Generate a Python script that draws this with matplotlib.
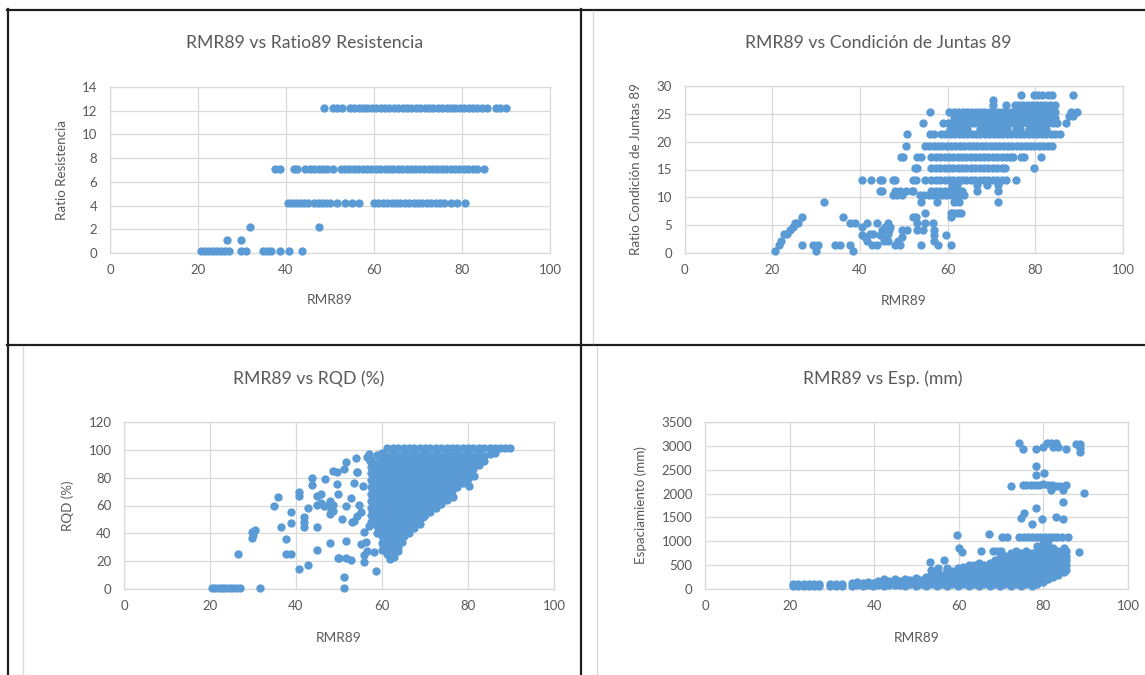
import matplotlib
matplotlib.use("Agg")
import matplotlib.pyplot as plt
from matplotlib.lines import Line2D

plt.rcParams['font.family'] = ['Lato', 'DejaVu Sans']

# ---------------- DATA ----------------
# Panel 1: RMR89 vs Ratio89 Resistencia (discrete levels)
res_levels = [12.2, 7.1, 4.2, 2.2, 1.1, 0.2]
res_x_12 = [48.7, 50.6, 51.5, 52.8, 54.5, 55.5, 56.5, 57.5, 58.5, 59.5, 60.5, 61.5, 62.5, 63.5,
            64.5, 65.5, 66.5, 67.5, 68.5, 69.5, 70.5, 71.5, 72.5, 73.5, 74.5, 75.5, 76.5, 77.5,
            78.5, 79.5, 80.5, 81.5, 82.5, 83.5, 84.5, 85.7, 87.7, 88.7, 89.9]
res_x_7 = [37.4, 38.7, 41.9, 42.5, 44.4, 45.4, 46.4, 47.4, 48.4, 49.4, 50.6, 52.4, 53.4, 54.4,
           55.4, 56.4, 57.4, 58.4, 59.4, 60.4, 61.4, 62.4, 63.4, 64.4, 65.4, 66.4, 67.4, 68.4,
           69.4, 70.4, 71.4, 72.4, 73.4, 74.4, 75.4, 76.4, 77.4, 78.4, 79.4, 80.4, 81.4, 82.4,
           83.4, 84.9]
res_x_4 = [40.4, 41.3, 42.2, 43.1, 44.1, 45.0, 46.4, 47.3, 48.2, 49.1, 50.0, 51.7, 53.5, 54.9,
           56.6, 60.0, 61.0, 62.0, 63.0, 64.0, 65.0, 66.0, 67.0, 68.0, 69.0, 70.0, 71.0, 72.0,
           73.0, 74.0, 75.0, 75.9, 77.6, 78.9, 80.6]
res_x_2 = [31.8, 47.6]
res_x_1 = [26.6, 29.7]
res_x_0 = [20.7, 21.6, 22.5, 23.4, 24.3, 25.2, 26.1, 27.1, 29.7, 31.0, 34.8, 35.6, 36.5,
           38.7, 40.6, 43.6]
res_rows = [res_x_12, res_x_7, res_x_4, res_x_2, res_x_1, res_x_0]

# Panel 2: RMR89 vs Condicion de Juntas 89 (rows of points)
jun_levels = [28.4, 27.4, 26.5, 25.3, 24.6, 24.2, 23.3, 22.3, 21.3, 19.2, 17.2, 15.2, 13.2,
              12.2, 11.2, 10.5, 9.2, 7.2, 6.4, 5.3, 4.7, 4.2, 3.4, 3.2, 2.9, 2.2, 1.4, 0.3]
jun_rows = [
    [76.8, 79.6, 80.7, 81.6, 82.8, 83.9, 88.6],
    [70.4],
    [70.4, 73.4, 75.3, 76.3, 77.3, 78.3, 79.3, 80.3, 81.3, 82.3, 83.3, 84.6],
    [56.1, 60.4, 61.4, 62.4, 63.4, 64.4, 65.4, 66.4, 67.4, 68.4, 69.4, 70.4, 71.4, 72.4, 73.4,
     74.4, 75.4, 76.4, 77.4, 78.4, 79.4, 80.4, 81.4, 82.4, 83.4, 84.6, 88.2, 89.5],
    [87.6, 88.6],
    [61.5, 62.5, 63.5, 64.5, 65.5, 66.5, 67.5, 68.5, 69.5, 70.5, 71.5, 72.5, 73.5, 74.5, 75.5,
     76.5, 77.5, 78.5, 79.5, 80.5, 81.5, 82.5, 83.5, 84.5],
    [54.4, 58.9, 60.0, 61.0, 62.0, 63.0, 64.0, 65.0, 66.0, 67.0, 68.0, 69.0, 70.0, 71.0, 72.0,
     73.0, 74.0, 75.0, 76.0, 77.0, 78.0, 79.0, 80.0, 81.0, 82.0, 83.0, 84.0, 85.0, 86.9],
    [60.5, 61.5, 62.5, 63.5, 64.5, 67.5, 68.5, 69.5, 70.5, 71.5, 72.5, 73.5, 75.5, 76.5, 78.5,
     79.5, 80.5, 81.5, 82.5],
    [50.7, 55.9, 57.0, 58.5, 59.5, 60.5, 61.5, 62.5, 63.5, 64.5, 65.5, 66.5, 67.5, 68.5, 69.5,
     70.5, 71.5, 72.5, 73.5, 74.5, 75.5, 76.5, 77.5, 78.5, 79.5, 80.5, 81.5, 82.5, 83.5, 84.5,
     85.7],
    [50.5, 54.8, 55.8, 56.8, 57.8, 58.8, 59.8, 60.8, 61.8, 62.8, 63.8, 64.8, 65.8, 66.8, 67.8,
     68.8, 69.8, 70.8, 71.8, 72.8, 73.8, 74.8, 75.8, 76.8, 77.8, 78.8, 79.8, 80.8, 81.8, 82.8,
     83.9],
    [49.3, 49.9, 53.0, 53.9, 56.3, 57.3, 58.3, 59.3, 60.3, 61.3, 62.3, 63.3, 64.3, 65.3, 66.3,
     67.3, 68.3, 69.3, 70.3, 71.3, 72.3, 73.3, 74.3, 74.9, 76.8, 77.5, 81.4],
    [52.6, 53.1, 56.3, 57.3, 58.3, 59.3, 60.3, 61.3, 62.3, 63.3, 64.3, 65.3, 66.3, 67.3, 68.3,
     69.3, 70.3, 71.3, 72.3, 73.1, 79.6],
    [40.4, 42.5, 44.6, 45.1, 47.6, 48.1, 52.2, 52.9, 54.8, 56.3, 57.3, 58.3, 59.3, 60.3, 61.3,
     62.3, 63.3, 64.3, 65.3, 66.3, 67.3, 68.3, 69.3, 70.3, 71.3, 72.3, 73.4, 75.5],
    [61.1, 62.2, 66.7, 69.0, 71.6],
    [44.6, 45.1, 48.1, 49.2, 50.5, 51.8, 52.2, 56.3, 57.3, 58.3, 59.3, 60.3, 61.3, 62.3, 63.3,
     66.7, 71.6],
    [47.6, 48.4, 49.6, 53.7, 54.7, 55.7, 56.7, 57.7, 58.7, 59.7, 60.7, 61.7, 62.7, 63.7],
    [31.7, 54.0, 57.5, 61.5, 62.6, 71.6],
    [54.8, 60.7, 61.5, 62.3, 63.0],
    [26.7, 36.2, 52.2, 52.9, 60.7],
    [25.2, 25.8, 37.7, 38.9, 41.6, 43.9, 46.5, 53.0, 54.8, 56.6],
    [24.7, 40.4, 45.8, 46.9],
    [24.0, 45.1, 46.6, 49.6, 50.7, 53.0, 54.4, 57.0],
    [22.6, 23.3, 42.3, 43.0, 46.5],
    [40.4, 44.6, 57.0, 59.6],
    [41.2, 45.7, 49.6],
    [22.0, 41.6, 45.4, 46.5, 48.8, 57.0],
    [21.6, 26.7, 29.4, 30.5, 34.3, 35.4, 37.7, 42.7, 43.9, 48.0, 49.2, 53.9, 57.8, 60.7],
    [20.6, 30.1, 38.5],
]

# Panel 3: RMR89 vs RQD (%) - scattered points
rqd_sparse_x = [20.4, 21.2, 22.0, 22.8, 23.6, 24.4, 25.2, 26.0, 27.0, 31.7, 26.6, 29.7, 30.1,
                29.7, 30.5, 34.8, 35.8, 37.7, 36.6, 38.8, 38.8, 37.7, 38.8, 40.8, 40.8, 40.8,
                42.7, 41.8, 41.8, 41.8, 42.7, 43.7, 43.7, 44.9, 45.7, 44.9, 45.7, 44.9, 44.9,
                46.8, 47.9, 48.6, 48.2, 48.0, 47.9, 48.6, 49.6, 49.6, 49.7, 49.7, 51.2, 51.6,
                53.9, 54.3, 56.6, 57.3, 57.0, 46.6, 47.8, 48.5, 51.6, 52.7, 53.1, 54.7, 54.3,
                50.8, 53.5, 55.0, 51.6, 50.1, 51.6, 52.7, 55.8, 55.8, 58.5, 51.1, 51.1, 55.0,
                56.2, 56.6, 58.1, 55.8, 56.9, 61.9, 62.7, 63.8, 64.6, 69.5, 76.4, 80.2, 81.4,
                88.6, 89.8, 53.4, 55.6, 54.2]
rqd_sparse_y = [1, 1, 1, 1, 1, 1, 1, 1, 1, 1, 25, 41, 38.5,
                36.5, 42.5, 60, 66, 36, 44.5, 55.5, 47.5, 25, 25, 70, 67, 14.5,
                17, 52, 48.5, 44.5, 58, 80, 74.5, 67, 68, 60.5, 61.5, 44.5, 28,
                79, 63.5, 60.5, 57, 54, 33, 84.5, 84, 75.5, 68.5, 22, 86.3, 91,
                94, 84, 94.7, 92.3, 97, 60, 61.2, 56.4, 60, 65.2, 48, 60.4, 52.8,
                50, 49.2, 55, 34.8, 22, 22, 21, 24.5, 19.2, 13.2, 8.4, 0.7, 32.4,
                33.6, 27.6, 26.4, 40.8, 45.6, 21.6, 22.8, 27.6, 33.6, 51.6, 66, 74, 81.5,
                101, 101, 76, 74, 84]
# dense core, column by column
rqd_core_x = [57.5, 58.75, 60.0, 61.25, 62.5, 63.75, 65.0, 66.25, 67.5, 68.75, 70.0, 71.25,
              72.5, 73.75, 75.0, 76.25, 77.5, 78.75, 80.0, 81.25, 82.5, 83.75, 85.0, 86.25,
              87.5]
rqd_core_y = [
    [93, 88, 83, 78, 73, 68, 63, 58, 53, 48],
    [96, 90.5, 85.5, 80.5, 75.5, 70.5, 65.5, 60.5, 55.5, 50.5, 45.5, 40.5],
    [98, 93, 88, 83, 78, 73, 68, 63, 58, 53, 48, 43, 38, 33, 28],
    [101, 95.5, 90.5, 85.5, 80.5, 75.5, 70.5, 65.5, 60.5, 55.5, 50.5, 45.5, 40.5, 35.5, 30.5, 25.5],
    [101, 98, 93, 88, 83, 78, 73, 68, 63, 58, 53, 48, 43, 38, 33, 28],
    [101, 95.5, 90.5, 85.5, 80.5, 75.5, 70.5, 65.5, 60.5, 55.5, 50.5, 45.5, 40.5, 35.5, 30.5],
    [101, 98, 93, 88, 83, 78, 73, 68, 63, 58, 53, 48, 43, 38],
    [101, 95.5, 90.5, 85.5, 80.5, 75.5, 70.5, 65.5, 60.5, 55.5, 50.5, 45.5, 40.5],
    [101, 98, 93, 88, 83, 78, 73, 68, 63, 58, 53, 48, 44],
    [101, 95.5, 90.5, 85.5, 80.5, 75.5, 70.5, 65.5, 60.5, 55.5, 50.5, 47],
    [101, 98, 93, 88, 83, 78, 73, 68, 63, 58, 53],
    [101, 95.5, 90.5, 85.5, 80.5, 75.5, 70.5, 65.5, 60.5, 55.5],
    [101, 98, 93, 88, 83, 78, 73, 68, 63, 58],
    [101, 95.5, 90.5, 85.5, 80.5, 75.5, 70.5, 65.5, 61],
    [101, 98, 93, 88, 83, 78, 73, 68, 64],
    [101, 95.5, 90.5, 85.5, 80.5, 75.5, 70.5, 67],
    [101, 98, 93, 88, 83, 78, 73],
    [101, 95.5, 90.5, 85.5, 80.5, 76],
    [101, 98, 93, 88, 83, 79],
    [101, 95.5, 90.5, 86],
    [101, 98, 93, 89],
    [101, 95.5, 92],
    [101, 97],
    [101, 98],
    [101],
]

# Panel 4: RMR89 vs Esp. (mm)
esp_sparse_x = [74.3, 75.2, 78.3, 80.0, 80.8, 81.8, 82.3, 82.9, 83.4, 85.4, 87.8, 88.6, 88.6,
                88.6, 78.3, 78.3, 80.2, 72.3, 75.1, 76.0, 77.0, 78.0, 79.0, 80.0, 81.0, 82.0,
                83.0, 84.0, 85.4, 81.8, 84.6, 89.5, 84.6, 78.3, 75.5, 74.7, 77.3, 79.7, 83.0,
                84.6, 59.6, 67.1, 70.3, 71.5, 74.3, 75.3, 76.3, 77.3, 78.3, 79.3, 80.3, 81.3,
                82.3, 83.3, 84.3, 85.8, 88.4, 60.0, 60.8, 65.2, 53.3, 56.4, 55.2, 57.2, 53.5,
                57.3, 62.9, 62.5, 68.0, 69.0, 70.0]
esp_sparse_y = [3050, 2940, 2940, 2980, 3050, 3050, 2980, 3050, 2980, 2940, 3030, 3030, 2950,
                2870, 2580, 2390, 2440, 2160, 2180, 2180, 2180, 2180, 2180, 2200, 2180, 2180,
                2150, 2160, 2180, 2070, 2070, 2020, 1830, 1700, 1600, 1480, 1370, 1460, 1510,
                1460, 1140, 1160, 1100, 1100, 1100, 1100, 1100, 1100, 1100, 1100, 1100, 1100,
                1100, 1100, 1100, 1100, 780, 850, 770, 800, 570, 610, 430, 450, 405,
                405, 405, 510, 800, 800, 800]
esp_core_x = [20.8, 22.0, 23.3, 24.5, 25.8, 26.9, 29.6, 30.9, 32.3, 34.8, 36.0, 37.3, 38.5,
              39.8, 41.0, 42.3, 43.5, 44.8, 46.0, 47.3, 48.5, 49.8, 51.0, 52.3, 53.5, 54.8,
              56.0, 57.3, 58.5, 59.8, 61.0, 62.3, 63.5, 64.8, 66.0, 67.3, 68.5, 69.8, 71.0,
              72.3, 73.5, 74.8, 76.0, 77.3, 78.5, 79.8, 81.0, 82.3, 83.5, 84.8, 85.4]
esp_core_y = [
    [60, 110], [55, 105], [60, 110], [55, 105], [60, 110], [55, 105],
    [65, 110], [60, 105], [65, 110], [70, 120], [80, 140], [65, 125], [80, 150],
    [70, 130], [90, 160], [70, 140, 200], [90, 160], [80, 150, 220], [80, 170],
    [60, 150, 220], [100, 190], [60, 150, 240], [100, 190], [60, 150, 250],
    [100, 200, 300], [60, 150, 250, 350], [100, 200, 300], [60, 150, 250, 350],
    [100, 200, 300, 380], [60, 150, 250, 350, 430], [100, 200, 300, 400, 470],
    [60, 150, 250, 350, 450], [100, 200, 300, 400, 500], [60, 150, 250, 350, 450, 540],
    [100, 200, 300, 400, 500], [60, 150, 250, 350, 450, 550],
    [100, 200, 300, 400, 500, 600], [60, 150, 250, 350, 450, 550, 640],
    [100, 200, 300, 400, 500, 600, 700], [60, 150, 250, 350, 450, 550, 650, 750],
    [100, 200, 300, 400, 500, 600, 700, 790], [60, 150, 250, 350, 450, 550, 650, 750],
    [100, 200, 300, 400, 500, 600, 700, 790], [60, 150, 250, 350, 450, 550, 650, 750],
    [100, 200, 300, 400, 500, 600, 700, 800, 900],
    [150, 250, 350, 450, 550, 650, 750, 850, 950],
    [200, 300, 400, 500, 600, 700, 800, 900, 1000],
    [250, 350, 450, 550, 650, 750, 850],
    [300, 400, 500, 600, 700, 800],
    [350, 450, 550, 650, 750, 850],
    [400, 500, 600, 700, 800],
]

titles = ["RMR89 vs Ratio89 Resistencia", "RMR89 vs Condición de Juntas 89",
          "RMR89 vs RQD (%)", "RMR89 vs Esp. (mm)"]
ylabels = ["Ratio Resistencia", "Ratio Condición de Juntas 89", "RQD (%)",
           "Espaciamiento (mm)"]
xlabel = "RMR89"
x_ticks = [0, 20, 40, 60, 80, 100]
y_ticks = [[0, 2, 4, 6, 8, 10, 12, 14], [0, 5, 10, 15, 20, 25, 30],
           [0, 20, 40, 60, 80, 100, 120], [0, 500, 1000, 1500, 2000, 2500, 3000, 3500]]

# ---------------- LAYOUT ----------------
W, H = 1145, 675
fig = plt.figure(figsize=(W / 100, H / 100), dpi=100)
fig.patch.set_facecolor('white')

BLUE = '#5B9BD5'
GRID = '#D9D9D9'
TXT = '#595959'
MS = 36

# plot areas in pixels: x0, x1, y_top, y_bottom
boxes = [(110, 550, 87, 253), (684.5, 1123, 86, 253), (124, 554, 422, 589), (705, 1128, 422, 589)]
title_pos = [(305, 43), (878, 43), (309, 379), (883, 379)]
ylabel_x = [62, 636, 68, 641]
xlabel_y = [300, 301, 638, 638]

axes = []
for i, (x0, x1, yt, yb) in enumerate(boxes):
    ax = fig.add_axes([x0 / W, 1 - yb / H, (x1 - x0) / W, (yb - yt) / H])
    ax.set_xlim(0, 100)
    ax.set_ylim(y_ticks[i][0], y_ticks[i][-1])
    ax.set_xticks(x_ticks)
    ax.set_yticks(y_ticks[i])
    ax.grid(True, color=GRID, lw=0.9)
    ax.set_axisbelow(True)
    for s in ax.spines.values():
        s.set_color(GRID)
        s.set_linewidth(0.9)
    ax.tick_params(length=0, colors=TXT, labelsize=9.5)
    ax.tick_params(axis='x', pad=8)
    ax.tick_params(axis='y', pad=9)
    axes.append(ax)
    fig.text(title_pos[i][0] / W, 1 - title_pos[i][1] / H, titles[i], ha='center', va='center',
             fontsize=12.7, color=TXT)
    fig.text(((x0 + x1) / 2) / W, 1 - xlabel_y[i] / H, xlabel, ha='center', va='center',
             fontsize=9.8, color=TXT)
    fig.text(ylabel_x[i] / W, 1 - ((yt + yb) / 2) / H, ylabels[i], ha='center', va='center',
             rotation=90, fontsize=9.6, color=TXT)

# Panel 1
for lvl, xs in zip(res_levels, res_rows):
    axes[0].scatter(xs, [lvl] * len(xs), s=MS, color=BLUE, linewidths=0, clip_on=False, zorder=3)
# Panel 2
for lvl, xs in zip(jun_levels, jun_rows):
    axes[1].scatter(xs, [lvl] * len(xs), s=MS, color=BLUE, linewidths=0, clip_on=False, zorder=3)
# Panel 3
axes[2].scatter(rqd_sparse_x, rqd_sparse_y, s=MS, color=BLUE, linewidths=0, clip_on=False, zorder=3)
for xv, ys in zip(rqd_core_x, rqd_core_y):
    axes[2].scatter([xv] * len(ys), ys, s=MS, color=BLUE, linewidths=0, clip_on=False, zorder=3)
# Panel 4
axes[3].scatter(esp_sparse_x, esp_sparse_y, s=MS, color=BLUE, linewidths=0, clip_on=False, zorder=3)
for xv, ys in zip(esp_core_x, esp_core_y):
    axes[3].scatter([xv] * len(ys), ys, s=MS, color=BLUE, linewidths=0, clip_on=False, zorder=3)

# ---------------- frame lines (screenshot borders) ----------------
def hline(y, x0, x1, color, lw):
    fig.add_artist(Line2D([x0 / W, x1 / W], [1 - y / H, 1 - y / H], color=color, lw=lw,
                          transform=fig.transFigure))

def vline(x, y0, y1, color, lw):
    fig.add_artist(Line2D([x / W, x / W], [1 - y0 / H, 1 - y1 / H], color=color, lw=lw,
                          transform=fig.transFigure))

DARK = '#1f1f1f'
hline(9.5, 7, W, DARK, 1.6)
hline(345, 7, W, DARK, 1.6)
vline(7.5, 9, H, DARK, 1.6)
vline(581, 9, H, DARK, 1.6)
vline(23, 347, H, GRID, 1.0)
vline(593, 11, 343, GRID, 1.0)
vline(597, 347, H, GRID, 1.0)

fig.savefig("out.png", dpi=100, facecolor='white')
